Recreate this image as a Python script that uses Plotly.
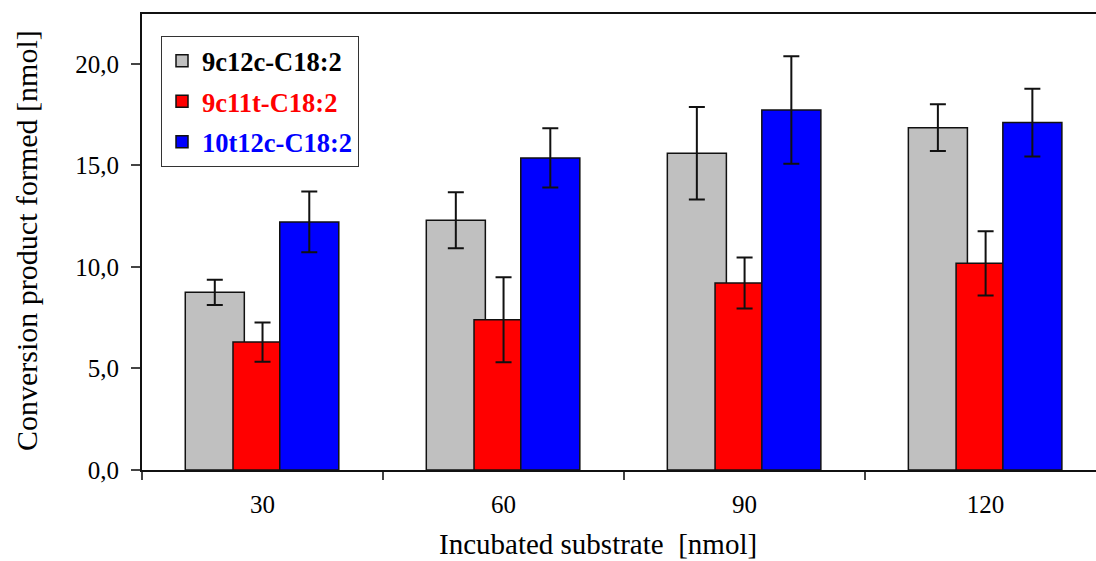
import plotly.graph_objects as go

categories = ["30", "60", "90", "120"]
series_names = ["9c12c-C18:2", "9c11t-C18:2", "10t12c-C18:2"]
values_9c12c = [8.75, 12.30, 15.60, 16.86]
errors_9c12c = [0.62, 1.38, 2.28, 1.15]
values_9c11t = [6.30, 7.40, 9.21, 10.18]
errors_9c11t = [0.97, 2.09, 1.26, 1.58]
values_10t12c = [12.22, 15.37, 17.73, 17.11]
errors_10t12c = [1.50, 1.46, 2.65, 1.67]
colors = ["#C0C0C0", "#FF0000", "#0000FF"]
legend_text_colors = ["#000000", "#FF0000", "#0000FF"]
y_tick_values = [0, 5, 10, 15, 20]
y_tick_labels = ["0,0", "5,0", "10,0", "15,0", "20,0"]

values = [values_9c12c, values_9c11t, values_10t12c]
errors = [errors_9c12c, errors_9c11t, errors_10t12c]
bar_width = 0.245
centers = [-0.198, 0.0, 0.194]

FONT = "Liberation Serif"

fig = go.Figure()
for i in range(3):
    fig.add_trace(go.Bar(
        x=categories,
        y=values[i],
        name="<b><span style='color:%s'>%s</span></b>" % (legend_text_colors[i], series_names[i]),
        width=bar_width,
        offset=centers[i] - bar_width / 2,
        marker=dict(color=colors[i], line=dict(color="#111111", width=1.5)),
        error_y=dict(type="data", array=errors[i], visible=True,
                     color="#111111", thickness=2, width=8),
        legendgroup=series_names[i],
    ))

fig.update_layout(
    width=1096, height=561,
    margin=dict(l=142, r=0, t=14, b=91),
    barmode="overlay",
    paper_bgcolor="white",
    plot_bgcolor="white",
    font=dict(family=FONT, size=25, color="black"),
    showlegend=True,
    legend=dict(
        x=(161 - 142) / 954, y=(470 - 36) / 456, xanchor="left", yanchor="top",
        bgcolor="white", bordercolor="#333333", borderwidth=1,
        font=dict(family=FONT, size=26.5),
        tracegroupgap=3,
        traceorder="grouped",
        itemclick=False,
    ),
    xaxis=dict(
        type="category",
        range=[-0.5, 3.458],
        showline=True, linecolor="#111111", linewidth=2,
        mirror=True,
        ticks="outside", tickson="boundaries", ticklen=8, tickcolor="#444444", tickwidth=1.5,
        ticklabelstandoff=11,
        tickfont=dict(family=FONT, size=25),
        showgrid=False, zeroline=False,
    ),
    yaxis=dict(
        range=[0, 22.46],
        tickvals=y_tick_values, ticktext=y_tick_labels,
        showline=True, linecolor="#111111", linewidth=2,
        ticks="outside", ticklen=9, tickcolor="#444444", tickwidth=1.5,
        ticklabelstandoff=7,
        tickfont=dict(family=FONT, size=25),
        showgrid=False, zeroline=False,
    ),
    annotations=[
        dict(text="Incubated substrate\u00a0 [nmol]",
             x=(598 - 142) / 954, xref="paper",
             y=(470 - 561) / 456, yref="paper",
             showarrow=False, xanchor="center", yanchor="bottom",
             borderpad=0,
             font=dict(family=FONT, size=29)),
        dict(text="Conversion product formed [nmol]",
             x=(26 - 142) / 954, xref="paper",
             y=(470 - 241) / 456, yref="paper",
             showarrow=False, textangle=-90,
             xanchor="center", yanchor="middle",
             font=dict(family=FONT, size=30)),
    ],
)

fig.write_html(
    "out.html",
    config={"displayModeBar": False},
    post_script="document.body.style.margin='0';document.body.style.padding='0';",
)
